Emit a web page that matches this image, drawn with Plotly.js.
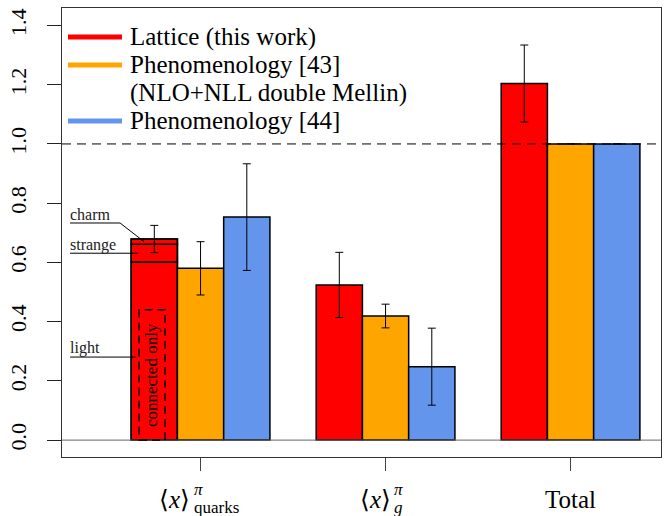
<!DOCTYPE html>
<html>
<head>
<meta charset="utf-8">
<script src="https://cdn.plot.ly/plotly-3.0.1.min.js"></script>
<style>html,body{margin:0;padding:0;background:#fff;}#chart{width:667px;height:516px;}</style>
</head>
<body>
<div id="chart"></div>
<script>
// ---- data ----
const categories = ['quarks', 'g', 'Total'];
const latticeValues = [0.679, 0.524, 1.204];
const latticeErrors = [0.046, 0.11, 0.13];
const flavourNames = ['light', 'strange', 'charm'];
const flavourValues = [0.601, 0.060, 0.018];
const connectedOnly = [0.44];
const pheno43Values = [0.580, 0.419, 1.0];
const pheno43Errors = [0.09, 0.04, null];
const pheno44Values = [0.753, 0.248, 1.0];
const pheno44Errors = [0.18, 0.13, null];
const legendNames = ['Lattice (this work)', 'Phenomenology [43]', '(NLO+NLL double Mellin)', 'Phenomenology [44]'];
const yTicks = [0, 0.2, 0.4, 0.6, 0.8, 1.0, 1.2, 1.4];
const referenceLine = 1.0;

const RED = '#FF0000', ORANGE = '#FFA500', BLUE = '#6495ED';
const FONT = 'Liberation Serif';
const outline = {color: '#000', width: 1.5};
const errStyle = {type: 'data', visible: true, color: '#000', thickness: 1, width: 4};

const traces = [];
let base = 0;
flavourValues.forEach((v, i) => {
  traces.push({
    type: 'bar', x: [categories[0]], y: [v], base: [base], offsetgroup: 'lat',
    name: flavourNames[i], marker: {color: RED, line: outline}, showlegend: false, hoverinfo: 'skip'
  });
  base += v;
});
traces.push({
  type: 'bar', x: categories, y: latticeValues, offsetgroup: 'lat', name: legendNames[0],
  marker: {color: ['rgba(0,0,0,0)', RED, RED], line: outline},
  error_y: Object.assign({array: latticeErrors}, errStyle), showlegend: false
});
traces.push({
  type: 'bar', x: categories, y: pheno43Values, offsetgroup: 'p43', name: legendNames[1],
  marker: {color: ORANGE, line: outline},
  error_y: Object.assign({array: pheno43Errors}, errStyle), showlegend: false
});
traces.push({
  type: 'bar', x: categories, y: pheno44Values, offsetgroup: 'p44', name: legendNames[3],
  marker: {color: BLUE, line: outline},
  error_y: Object.assign({array: pheno44Errors}, errStyle), showlegend: false
});

const px2x = px => (px - 200.5) / 185;
const py2y = py => (440 - py) / 296;
const ppx = px => (px - 62) / 599;
const ppy = py => (457 - py) / 449;

const shapes = [
  {type: 'line', xref: 'paper', x0: 0, x1: 1, yref: 'y', y0: referenceLine, y1: referenceLine,
   line: {color: '#000', width: 1, dash: '9px,6px'}},
  {type: 'line', xref: 'paper', x0: 0, x1: 1, yref: 'y', y0: 0, y1: 0,
   line: {color: '#666', width: 1}},
  {type: 'rect', xref: 'x', yref: 'y', x0: px2x(139), x1: px2x(165), y0: 0, y1: connectedOnly[0],
   line: {color: '#000', width: 1.5, dash: '8px,5px'}},
  {type: 'line', xref: 'x', yref: 'y', x0: px2x(70), x1: px2x(120), y0: py2y(223), y1: py2y(223), line: {color: '#000', width: 1}},
  {type: 'line', xref: 'x', yref: 'y', x0: px2x(120), x1: px2x(144), y0: py2y(223), y1: flavourValues[0] + flavourValues[1] + flavourValues[2] / 2, line: {color: '#000', width: 1}},
  {type: 'line', xref: 'x', yref: 'y', x0: px2x(70), x1: px2x(138), y0: flavourValues[0] + flavourValues[1] / 2, y1: flavourValues[0] + flavourValues[1] / 2, line: {color: '#000', width: 1}},
  {type: 'line', xref: 'x', yref: 'y', x0: px2x(70), x1: px2x(136), y0: py2y(357), y1: py2y(357), line: {color: '#000', width: 1}}
];
const legendColors = [RED, ORANGE, BLUE];
const legendLineY = [37, 65, 121];
legendColors.forEach((c, i) => {
  shapes.push({type: 'line', xref: 'paper', yref: 'paper', x0: ppx(68), x1: ppx(122),
    y0: ppy(legendLineY[i]), y1: ppy(legendLineY[i]), line: {color: c, width: 5}});
});

const legendTextY = [37, 65, 93, 121];
const annotations = legendNames.map((t, i) => ({
  xref: 'paper', yref: 'paper', x: ppx(128), y: ppy(legendTextY[i]), xanchor: 'left', yanchor: 'middle',
  text: t, showarrow: false, font: {family: FONT, size: 25, color: '#000'}
}));
const smallFont = {family: FONT, size: 16, color: '#222'};
annotations.push(
  {xref: 'x', yref: 'y', x: px2x(68), y: py2y(225), xanchor: 'left', yanchor: 'bottom', text: flavourNames[2], showarrow: false, font: smallFont},
  {xref: 'x', yref: 'y', x: px2x(68), y: py2y(256), xanchor: 'left', yanchor: 'bottom', text: flavourNames[1], showarrow: false, font: smallFont},
  {xref: 'x', yref: 'y', x: px2x(68), y: py2y(359), xanchor: 'left', yanchor: 'bottom', text: flavourNames[0], showarrow: false, font: smallFont},
  {xref: 'x', yref: 'y', x: px2x(152), y: connectedOnly[0] / 2, textangle: -90, text: 'connected only', showarrow: false,
   font: {family: FONT, size: 17, color: '#000'}}
);
const labFont = {family: FONT, size: 25, color: '#000'};
const supFont = {family: FONT, size: 17, color: '#000'};
const labY = ppy(499);
annotations.push(
  {xref: 'x', yref: 'paper', x: 0, xshift: -8.5, y: labY, xanchor: 'right', yanchor: 'middle', text: '⟨<i>x</i>⟩', showarrow: false, font: labFont},
  {xref: 'x', yref: 'paper', x: 0, xshift: -9, y: ppy(489), xanchor: 'left', yanchor: 'middle', text: '<i>π</i>', showarrow: false, font: supFont},
  {xref: 'x', yref: 'paper', x: 0, xshift: -9, y: ppy(507), xanchor: 'left', yanchor: 'middle', text: 'quarks', showarrow: false, font: supFont},
  {xref: 'x', yref: 'paper', x: 1, xshift: 7, y: labY, xanchor: 'right', yanchor: 'middle', text: '⟨<i>x</i>⟩', showarrow: false, font: labFont},
  {xref: 'x', yref: 'paper', x: 1, xshift: 6.5, y: ppy(489), xanchor: 'left', yanchor: 'middle', text: '<i>π</i>', showarrow: false, font: supFont},
  {xref: 'x', yref: 'paper', x: 1, xshift: 6.5, y: ppy(507), xanchor: 'left', yanchor: 'middle', text: '<i>g</i>', showarrow: false, font: supFont},
  {xref: 'x', yref: 'paper', x: 2, y: labY, xanchor: 'center', yanchor: 'middle', text: categories[2], showarrow: false, font: labFont}
);

const layout = {
  width: 667, height: 516,
  margin: {l: 62, r: 6, t: 8, b: 59},
  paper_bgcolor: '#fff', plot_bgcolor: '#fff',
  barmode: 'group', bargap: 0.25, bargroupgap: 0,
  showlegend: false,
  font: {family: FONT, color: '#000'},
  xaxis: {
    type: 'category', range: [-0.749, 2.489], tickvals: categories, ticktext: ['', '', ''],
    ticks: 'outside', ticklen: 13, tickcolor: '#444', tickwidth: 1,
    showline: true, mirror: true, linecolor: '#333', linewidth: 1, showgrid: false, zeroline: false
  },
  yaxis: {
    range: [-0.057, 1.459], tickvals: yTicks, tickformat: '.1f', tickangle: -90,
    ticks: 'outside', ticklen: 14, tickcolor: '#222', tickwidth: 1, ticklabelstandoff: 12,
    tickfont: {family: FONT, size: 22, color: '#000'},
    showline: true, mirror: true, linecolor: '#333', linewidth: 1, showgrid: false, zeroline: false
  },
  shapes: shapes, annotations: annotations
};
Plotly.newPlot('chart', traces, layout, {staticPlot: true, displayModeBar: false});
</script>
</body>
</html>
